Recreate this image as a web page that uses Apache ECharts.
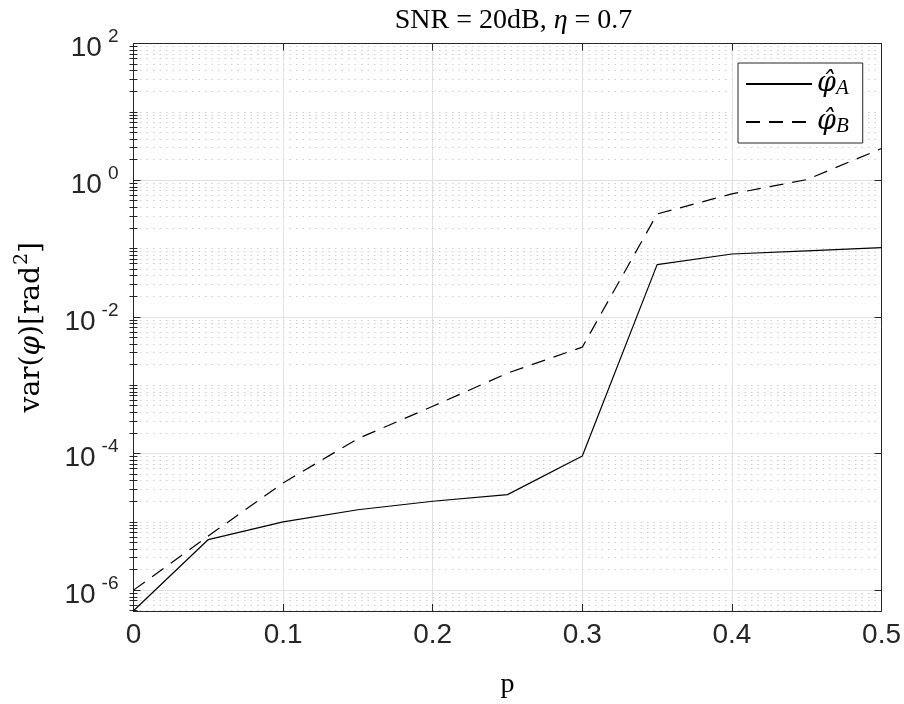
<!DOCTYPE html>
<html>
<head>
<meta charset="utf-8">
<script src="https://cdn.jsdelivr.net/npm/echarts@6/dist/echarts.min.js"></script>
<style>
  html, body { margin: 0; padding: 0; background: #ffffff; }
  #chart { width: 904px; height: 704px; }
</style>
</head>
<body>
<div id="chart"></div>
<script>
// Outlier probability p on the horizontal axis
const pValues = [0, 0.05, 0.1, 0.15, 0.2, 0.25, 0.3, 0.35, 0.4, 0.45, 0.5];
// Phase-estimate variance [rad^2] for the two estimators
const varA = [5.0e-7, 5.5e-6, 1.0e-5, 1.5e-5, 2.0e-5, 2.5e-5, 9.2e-5, 0.058, 0.083, 0.092, 0.103];
const varB = [1.0e-6, 6.2e-6, 3.7e-5, 1.65e-4, 4.9e-4, 1.5e-3, 3.6e-3, 0.32, 0.63, 1.02, 2.9];
// Axis ticks
const xTicks = [0, 0.1, 0.2, 0.3, 0.4, 0.5];
const yMajorTicks = [1e-6, 1e-4, 1e-2, 1, 100];
const yMin = 4.95e-7;
const yMax = 100;

// Minor log ticks: every k·10^n that is not a labelled decade
const yMinorTicks = [];
for (let e = -7; e <= 1; e++) {
  for (let k = 1; k <= 9; k++) {
    const v = k * Math.pow(10, e);
    if (v < yMin || v > yMax) continue;
    if (yMajorTicks.some(m => Math.abs(Math.log10(m) - Math.log10(v)) < 1e-9)) continue;
    yMinorTicks.push(v);
  }
}

const axisColor = '#262626';
const sansFont = 'Liberation Sans';
const serifFont = 'Liberation Serif';
const wideSerif = 'DejaVu Serif';

const chart = echarts.init(document.getElementById('chart'), null, { renderer: 'canvas' });

const yBase = {
  type: 'log',
  logBase: 10,
  min: yMin,
  max: yMax,
  gridIndex: 0
};

const option = {
  animation: false,
  backgroundColor: '#ffffff',
  title: {
    text: '{r|SNR = 20dB, }{i|η}{r| = 0.7}',
    left: 508.5,
    textAlign: 'center',
    top: 2,
    textStyle: {
      rich: {
        r: { fontFamily: serifFont, fontWeight: 'normal', fontSize: 28, color: '#000' },
        i: { fontFamily: serifFont, fontWeight: 'normal', fontStyle: 'italic', fontSize: 28, color: '#000' }
      }
    }
  },
  grid: { left: 133.5, right: 20.5, top: 43.5, bottom: 90, containLabel: false },
  legend: {
    left: 738,
    top: 63,
    orient: 'vertical',
    itemWidth: 66,
    itemHeight: 14,
    itemGap: 8,
    padding: [6, 14, 6, 7],
    borderColor: axisColor,
    borderWidth: 1,
    borderRadius: 0,
    backgroundColor: '#ffffff',
    itemStyle: { color: 'rgba(0,0,0,0)', borderWidth: 0 },
    formatter: function (name) {
      return name === 'A' ? '{v|φ̂}{s|A}' : '{v|φ̂}{s|B}';
    },
    textStyle: {
      lineHeight: 30,
      rich: {
        v: { fontFamily: wideSerif, fontStyle: 'italic', fontSize: 27, color: '#000', lineHeight: 30 },
        s: { fontFamily: serifFont, fontStyle: 'italic', fontSize: 21, color: '#000', lineHeight: 30, verticalAlign: 'bottom' }
      }
    },
    data: ['A', 'B']
  },
  xAxis: [
    {
      type: 'value',
      position: 'bottom',
      min: 0,
      max: 0.5,
      interval: 0.1,
      name: 'p',
      nameLocation: 'middle',
      nameGap: 60,
      nameTextStyle: { fontFamily: serifFont, fontSize: 28, color: '#000' },
      axisLine: { show: true, onZero: false, lineStyle: { color: axisColor, width: 1 } },
      axisTick: { show: true, inside: true, length: 7, lineStyle: { color: axisColor } },
      axisLabel: {
        margin: 10,
        fontFamily: sansFont,
        fontSize: 28,
        color: axisColor,
        formatter: v => String(Math.round(v * 10) / 10)
      },
      splitLine: { show: true, lineStyle: { color: '#e1e1e1', width: 1 } }
    },
    {
      type: 'value',
      position: 'top',
      min: 0,
      max: 0.5,
      interval: 0.1,
      axisLine: { show: true, onZero: false, lineStyle: { color: axisColor, width: 1 } },
      axisTick: { show: true, inside: true, length: 7, lineStyle: { color: axisColor } },
      axisLabel: { show: false },
      splitLine: { show: false }
    }
  ],
  yAxis: [
    Object.assign({}, yBase, {
      position: 'left',
      name: '{r|var(}{i|φ}{r|)[rad}{s|2}{r|]}',
      nameLocation: 'middle',
      nameRotate: 90,
      nameGap: 88,
      nameTextStyle: {
        rich: {
          r: { fontFamily: wideSerif, fontSize: 28, color: '#000', lineHeight: 34, verticalAlign: 'bottom' },
          i: { fontFamily: wideSerif, fontStyle: 'italic', fontSize: 28, color: '#000', lineHeight: 34, verticalAlign: 'bottom' },
          s: { fontFamily: wideSerif, fontSize: 19, color: '#000', lineHeight: 34, verticalAlign: 'top', padding: [1, 0, 0, 1] }
        }
      },
      axisLine: { show: true, onZero: false, lineStyle: { color: axisColor, width: 1 } },
      axisTick: { show: true, inside: true, length: 7, customValues: yMajorTicks, lineStyle: { color: axisColor } },
      axisLabel: {
        show: true,
        customValues: yMajorTicks,
        margin: 15,
        formatter: v => '{b|10}{e|' + Math.round(Math.log10(v)) + '}',
        rich: {
          b: { fontFamily: sansFont, fontSize: 28, color: axisColor, lineHeight: 38, verticalAlign: 'bottom' },
          e: { fontFamily: sansFont, fontSize: 19, color: axisColor, lineHeight: 38, verticalAlign: 'top', padding: [3, 0, 0, 6] }
        }
      },
      splitLine: { show: true, lineStyle: { color: '#e1e1e1', width: 1 } }
    }),
    Object.assign({}, yBase, {
      position: 'left',
      offset: 0,
      axisLine: { show: false },
      axisTick: { show: true, inside: true, length: 4, customValues: yMinorTicks, lineStyle: { color: axisColor } },
      axisLabel: { show: false },
      splitLine: { show: true, lineStyle: { color: '#cfcfcf', width: 1, type: [1.5, 5] } }
    }),
    Object.assign({}, yBase, {
      position: 'right',
      offset: 0,
      axisLine: { show: true, onZero: false, lineStyle: { color: axisColor, width: 1 } },
      axisTick: { show: true, inside: true, length: 7, customValues: yMajorTicks, lineStyle: { color: axisColor } },
      axisLabel: { show: false },
      splitLine: { show: false }
    }),
    Object.assign({}, yBase, {
      position: 'right',
      offset: 0,
      axisLine: { show: false },
      axisTick: { show: true, inside: true, length: 4, customValues: yMinorTicks, lineStyle: { color: axisColor } },
      axisLabel: { show: false },
      splitLine: { show: false }
    })
  ],
  series: [
    {
      name: 'A',
      type: 'line',
      xAxisIndex: 0,
      yAxisIndex: 0,
      symbol: 'none',
      lineStyle: { color: '#000000', width: 1.2, type: 'solid' },
      itemStyle: { color: '#000000' },
      data: pValues.map((p, i) => [p, varA[i]]),
      z: 5
    },
    {
      name: 'B',
      type: 'line',
      xAxisIndex: 0,
      yAxisIndex: 0,
      symbol: 'none',
      lineStyle: { color: '#000000', width: 1.2, type: [14, 9] },
      itemStyle: { color: '#000000' },
      data: pValues.map((p, i) => [p, varB[i]]),
      z: 5
    }
  ]
};

chart.setOption(option);
</script>
</body>
</html>
